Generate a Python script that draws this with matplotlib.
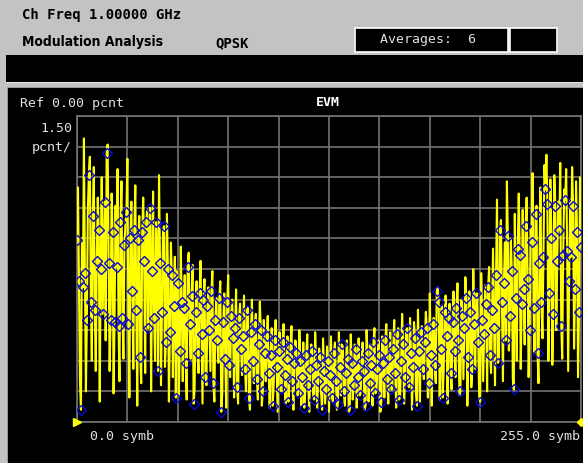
#!/usr/bin/env python3

import numpy as np
from matplotlib import pyplot as plt
from matplotlib.patches import Rectangle

# EVM per symbol (pcnt) at the symbol instants (blue diamonds)
evm_symbols = [
    8.9, 6.9, 0.6, 6.6, 7.3, 5.0, 12.1, 5.9, 10.1, 5.5, 7.9, 9.4, 7.5, 5.3, 10.8, 13.2,
    7.8, 5.0, 9.3, 4.9, 7.6, 4.7, 9.8, 5.1, 8.7, 10.3, 4.8, 9.0, 6.4, 9.4, 5.5, 8.9,
    3.2, 9.3, 7.9, 9.8, 4.6, 10.5, 7.4, 5.1, 9.8, 2.5, 7.8, 5.4, 9.6, 3.9, 7.5, 4.4,
    7.2, 5.7, 1.2, 6.8, 3.5, 5.9, 5.6, 2.9, 7.6, 4.8, 6.2, 0.9, 5.4, 3.4, 6.3, 4.3,
    6.0, 2.2, 5.7, 4.5, 6.4, 1.9, 5.0, 4.0, 6.1, 0.5, 4.9, 3.1, 5.9, 2.8, 5.2, 4.1,
    4.6, 1.7, 5.1, 3.6, 4.2, 2.6, 5.5, 1.2, 4.4, 3.0, 4.8, 2.1, 3.8, 4.5, 1.5, 3.4,
    4.2, 2.4, 3.3, 0.8, 4.0, 2.7, 3.5, 1.6, 3.9, 2.3, 3.1, 1.0, 3.7, 2.0, 2.9, 3.4,
    1.4, 3.0, 2.2, 0.7, 3.3, 1.8, 2.6, 3.5, 1.1, 2.8, 2.0, 3.2, 0.6, 2.5, 1.6, 3.0,
    2.3, 1.2, 3.4, 2.0, 0.9, 2.7, 3.8, 1.5, 2.4, 3.1, 0.6, 2.9, 1.8, 3.6, 2.2, 1.3,
    3.0, 2.5, 0.8, 3.4, 1.9, 2.8, 3.9, 1.4, 2.6, 3.3, 1.0, 2.9, 4.0, 2.1, 3.2, 1.6,
    3.6, 2.4, 4.3, 1.1, 3.0, 3.8, 2.2, 4.6, 1.7, 3.4, 2.7, 4.1, 0.8, 3.5, 4.4, 2.6,
    3.9, 4.6, 1.9, 3.3, 4.8, 2.8, 6.4, 5.9, 3.6, 1.2, 5.4, 4.2, 5.1, 2.4, 4.9, 3.5,
    5.6, 4.0, 1.5, 5.2, 4.6, 6.1, 3.2, 5.4, 2.6, 4.8, 6.3, 3.9, 1.0, 5.0, 4.3, 5.8,
    6.6, 3.3, 5.5, 4.6, 7.2, 2.9, 9.4, 5.9, 6.8, 4.0, 9.1, 5.2, 7.4, 1.6, 6.1, 8.5,
    8.2, 5.8, 6.5, 9.6, 7.0, 4.5, 8.8, 5.6, 10.2, 3.4, 7.8, 5.9, 8.1, 11.4, 10.7, 6.3,
    9.0, 5.3, 10.6, 7.9, 9.4, 4.7, 8.2, 10.9, 8.4, 6.9, 8.1, 10.6, 6.5, 9.3, 5.4, 8.6,
]

# trace excursion between consecutive symbols (yellow)
evm_between = [
    11.5, 2.0, 9.0, 13.9, 1.5, 10.5, 13.0, 3.0, 12.5, 2.5, 11.0, 1.0, 12.0, 8.0, 4.0, 13.6,
    2.5, 11.2, 1.4, 10.6, 12.4, 2.0, 11.8, 3.1, 9.7, 12.9, 1.2, 10.8, 2.6, 11.6, 0.8, 10.1,
    1.9, 11.0, 2.4, 10.4, 9.1, 1.5, 11.3, 3.0, 8.6, 12.1, 1.8, 9.4, 2.7, 10.2, 1.0, 8.8,
    2.2, 8.1, 7.4, 1.3, 8.6, 2.0, 7.2, 1.1, 8.3, 3.1, 7.7, 1.6, 6.9, 2.4, 7.9, 0.9,
    7.0, 1.8, 6.6, 2.5, 7.4, 1.0, 6.1, 2.9, 6.9, 1.4, 6.3, 0.7, 7.2, 2.2, 6.0, 1.2,
    6.5, 0.9, 5.8, 2.3, 6.2, 1.5, 5.6, 0.6, 6.0, 1.9, 5.3, 1.1, 5.9, 0.8, 5.0, 2.0,
    5.2, 0.7, 4.6, 1.8, 5.0, 0.5, 4.4, 1.5, 4.8, 0.9, 4.2, 2.0, 4.7, 0.6, 4.0, 1.3,
    4.5, 0.8, 3.9, 1.6, 4.3, 0.5, 3.8, 1.2, 4.4, 0.7, 3.6, 1.4, 4.1, 0.9, 3.7, 0.5,
    4.2, 1.0, 3.9, 0.6, 4.4, 1.3, 3.7, 0.8, 4.0, 0.5, 4.3, 1.1, 3.8, 0.7, 4.1, 1.4,
    3.9, 0.6, 4.5, 1.0, 3.8, 0.8, 4.6, 1.5, 4.0, 0.5, 4.2, 1.2, 4.8, 0.9, 4.4, 1.6,
    5.0, 0.7, 4.6, 1.3, 5.3, 0.9, 4.5, 1.8, 5.1, 0.6, 4.9, 1.4, 5.5, 1.0, 4.7, 2.1,
    5.4, 1.2, 6.3, 0.8, 5.1, 1.9, 6.6, 1.1, 5.7, 2.4, 6.2, 0.9, 5.8, 1.6, 6.4, 2.2,
    6.8, 1.3, 6.0, 2.1, 7.1, 0.8, 6.4, 1.7, 7.5, 2.6, 6.3, 1.2, 7.3, 2.0, 6.7, 1.5,
    7.6, 2.4, 8.5, 1.8, 10.9, 3.2, 9.9, 2.0, 8.8, 11.8, 3.5, 9.0, 2.1, 10.2, 3.0, 11.2,
    2.6, 10.4, 3.8, 11.0, 2.2, 9.5, 12.2, 3.4, 10.6, 1.9, 11.5, 4.1, 12.6, 13.1, 3.0, 11.9,
    2.8, 12.1, 4.5, 10.8, 12.7, 3.1, 11.4, 12.4, 2.5, 10.9, 12.5, 3.6, 11.8, 2.2, 12.0, 9.5,
]

n_symbols = 256
ref_level = 0.0
scale_per_div = 1.5
n_div = 10

W, H = 583, 464


def fx(x):
    return x / W


def fy(y):
    return 1 - y / H


fig = plt.figure(figsize=(W / 100, H / 100), dpi=100)
fig.patch.set_facecolor("#c3c3c3")

# header bars and panel (kept under the trace axes)
bg = dict(lw=0, zorder=-5)
fig.add_artist(Rectangle((fx(6), fy(84)), fx(W), 28 / H, color="black", **bg))
fig.add_artist(Rectangle((fx(6), fy(84)), fx(W), 1.5 / H, color="#e8e8e8", **bg))
fig.add_artist(Rectangle((fx(7), 0), fx(W), fy(88), color="black", **bg))
fig.add_artist(Rectangle((fx(7), fy(89)), fx(W), 1.2 / H, color="#9a9a9a", **bg))
fig.add_artist(Rectangle((fx(7), 0), 1.2 / W, fy(89), color="#9a9a9a", **bg))

# averages boxes
fig.add_artist(Rectangle((fx(355), fy(53)), 153 / W, 24 / H,
                         facecolor="black", edgecolor="white", lw=1.2, zorder=-5))
fig.add_artist(Rectangle((fx(510), fy(53)), 47 / W, 24 / H,
                         facecolor="black", edgecolor="white", lw=1.2, zorder=-5))

mono = "DejaVu Sans Mono"
fig.text(fx(22), fy(15), "Ch Freq 1.00000 GHz", family=mono, weight="bold",
         fontsize=10, va="center", ha="left", color="black")
fig.text(fx(22), fy(42), "Modulation Analysis", family="DejaVu Sans", weight="bold",
         fontsize=10, va="center", ha="left", color="black", stretch="condensed")
fig.text(fx(215), fy(43), "QPSK", family=mono, weight="bold",
         fontsize=10, va="center", ha="left", color="black")
fig.text(fx(380), fy(40), "Averages:  6", family=mono,
         fontsize=9.5, va="center", ha="left", color="#e0e0e0")

fig.text(fx(20), fy(103), "Ref 0.00 pcnt", family=mono,
         fontsize=9.5, va="center", ha="left", color="#e0e0e0")
fig.text(fx(328), fy(103), "EVM", family=mono, weight="bold",
         fontsize=9.5, va="center", ha="center", color="white")
fig.text(fx(72), fy(128), "1.50", family=mono,
         fontsize=9.5, va="center", ha="right", color="#e0e0e0")
fig.text(fx(72), fy(148), "pcnt/", family=mono,
         fontsize=9.5, va="center", ha="right", color="#e0e0e0")
fig.text(fx(90), fy(437), "0.0 symb", family=mono,
         fontsize=9.5, va="center", ha="left", color="#e0e0e0")
fig.text(fx(580), fy(437), "255.0 symb", family=mono,
         fontsize=9.5, va="center", ha="right", color="#e0e0e0")

# trace area
ax = fig.add_axes([fx(77), fy(423), (581 - 77) / W, (423 - 117) / H])
ax.set_zorder(2)
ax.set_facecolor("black")
ax.set_xlim(0, n_symbols - 1)
ax.set_ylim(ref_level, ref_level + scale_per_div * n_div)
ax.set_xticks(np.linspace(0, n_symbols - 1, n_div + 1))
ax.set_yticks(np.linspace(ref_level, ref_level + scale_per_div * n_div, n_div + 1))
ax.tick_params(length=0, labelbottom=False, labelleft=False)
ax.grid(True, color="#747474", lw=1.2)
for sp in ax.spines.values():
    sp.set_color("#747474")
    sp.set_linewidth(1.2)

sym = np.arange(n_symbols)
tx = np.empty(2 * n_symbols)
ty = np.empty(2 * n_symbols)
tx[0::2] = sym
tx[1::2] = sym + 0.5
ty[0::2] = evm_symbols
ty[1::2] = evm_between
ax.plot(tx, ty, color="#ffff00", lw=1.5, zorder=3, clip_on=True)
ax.plot(sym, evm_symbols, ls="none", marker="D", ms=4.8, mfc="none",
        mec="#0a0ad8", mew=1.0, zorder=4)

# marker flags at the trace ends
ax.plot([0], [ref_level], marker=">", ms=6, color="#ffff00", clip_on=False, zorder=5)
ax.plot([n_symbols - 1], [ref_level], marker="D", ms=4, color="#ffff00",
        clip_on=False, zorder=5)

fig.savefig("out.png", dpi=100, facecolor=fig.get_facecolor())
